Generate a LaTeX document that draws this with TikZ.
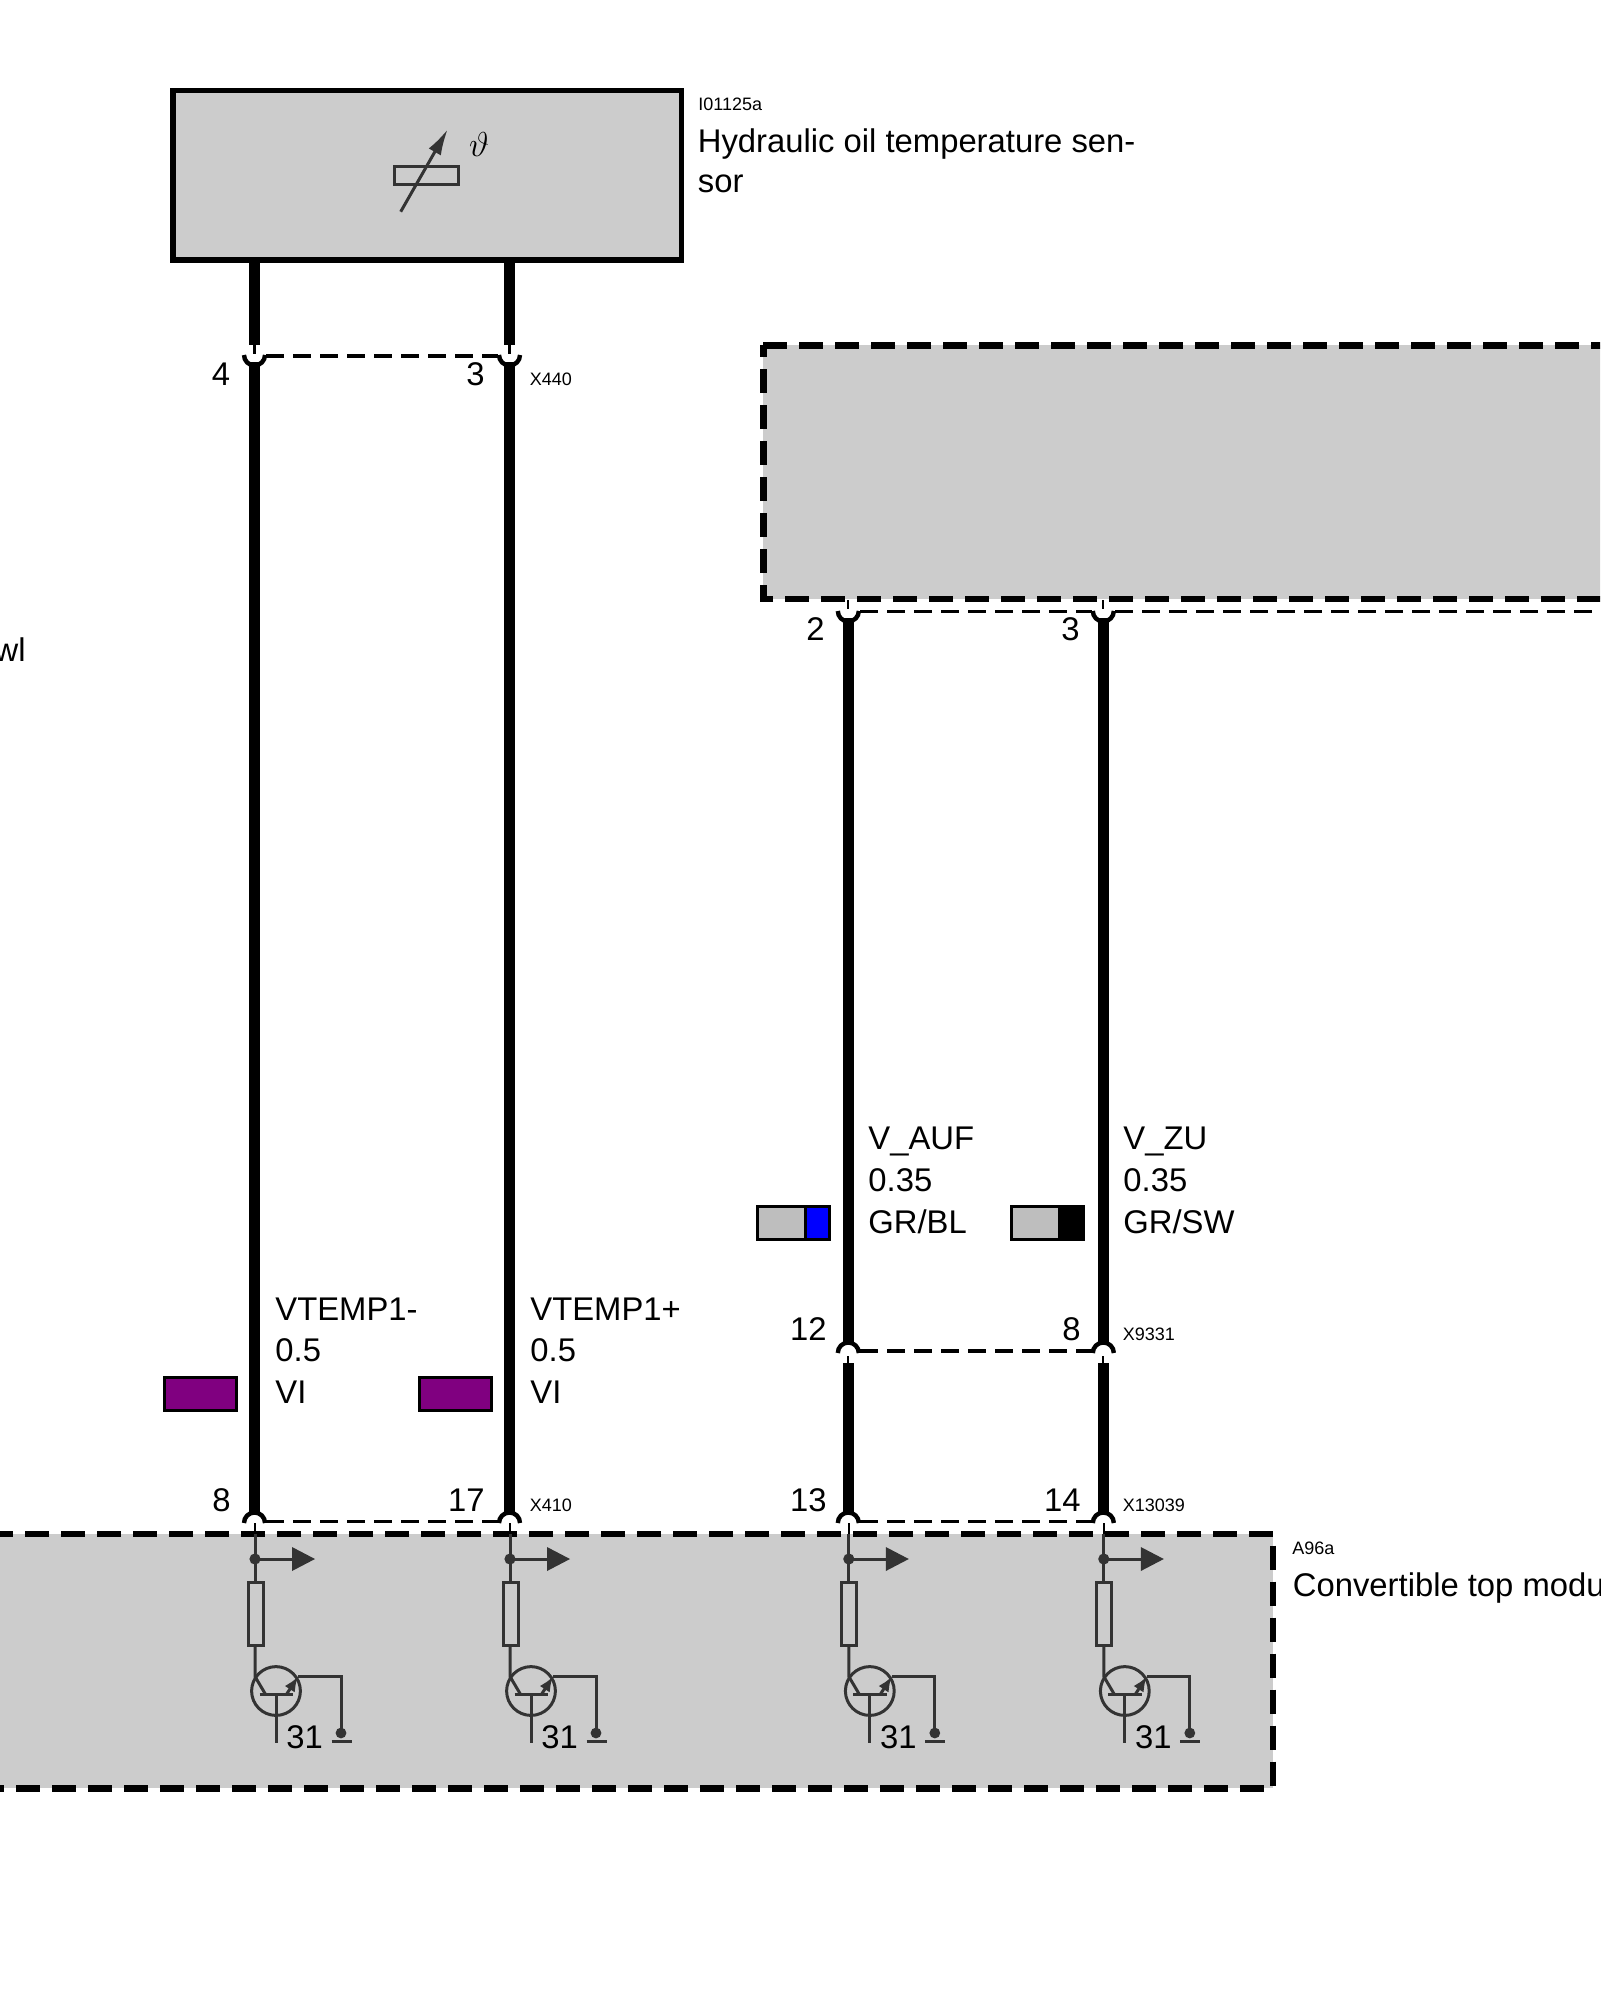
\documentclass[tikz,border=0pt]{standalone}
\usepackage{fontspec}
\setmainfont{Liberation Sans}
\usetikzlibrary{arrows.meta}
\definecolor{boxgray}{HTML}{CCCCCC}
\definecolor{swgray}{HTML}{BEBEBE}
\definecolor{symb}{HTML}{333333}
\definecolor{swviolet}{HTML}{800080}
\definecolor{swblue}{HTML}{0000FF}
\tikzset{
  big/.style={inner sep=0pt,anchor=base west,font=\fontsize{16.4}{18}\selectfont},
  bigr/.style={inner sep=0pt,anchor=base east,font=\fontsize{16.4}{18}\selectfont},
  tiny/.style={inner sep=0pt,anchor=base west,font=\fontsize{9}{10}\selectfont},
  wire/.style={line width=5.8pt,black},
  stub/.style={line width=1.1pt,black},
  conn/.style={line width=2.2pt,black},
  linkdash/.style={line width=1.6pt,black,dash pattern=on 9pt off 4.5pt},
  heavydash/.style={line width=3.2pt,black,dash pattern=on 12pt off 6pt},
  symline/.style={line width=1.5pt,symb},
  swatch/.style={line width=1.5pt,black}
}
\newcommand{\capU}[2]{\draw[conn] (#1-10.5,#2) arc[start angle=180,end angle=360,radius=5.25pt];}
\newcommand{\capN}[2]{\draw[conn] (#1-10.5,#2) arc[start angle=180,end angle=0,radius=5.25pt];}
\newcommand{\driver}[2]{%
  \begin{scope}[shift={(#1,0)}]
    \coordinate (#2top) at (0,1523);
    \coordinate (#2dot) at (0,1559);
    \coordinate (#2rt) at (0,1582.5);
    \coordinate (#2rb) at (0,1645.5);
    \coordinate (#2col) at (0,1676.5);
    \coordinate (#2gnd) at (86,1733);
    \draw[stub] (#2top) -- ++(0,14);
    \draw[symline] (0,1534) -- (#2rt);
    \fill[symb] (#2dot) circle[radius=2.8pt];
    \draw[symline] (#2dot) -- (40,1559);
    \fill[symb] (37,1547) -- (60,1559) -- (37,1571) -- cycle;
    \draw[symline] (-7,1582.5) rectangle (8,1645.5);
    \draw[symline] (#2rb) -- (#2col) -- (10.5,1694.3);
    \draw[symline] (21,1691) circle[radius=12.2pt];
    \draw[symline] (4.5,1694.3) -- (38,1694.3);
    \draw[symline] (21,1694.3) -- (21,1742.5);
    \draw[symline,-{Latex[length=7.5pt,width=6pt]}] (31.5,1694.3) -- (43,1676.5);
    \draw[symline] (43,1676.5) -- (86,1676.5) -- (#2gnd);
    \fill[symb] (#2gnd) circle[radius=2.7pt];
    \draw[symline] (76.5,1741) -- (96.5,1741);
    \node[big] (#2n) at (31,1748) {31};
  \end{scope}
}
\begin{document}
\begin{tikzpicture}[x=0.5pt,y=-0.5pt]
\useasboundingbox (0,0) rectangle (1600,2000);
\clip (0,0) rectangle (1600,2000);
\fill[white] (0,0) rectangle (1600,2000);

% gray boxes
\fill[boxgray] (763.3,345.5) rectangle (1610,599);
\draw[heavydash] (763.3,345.5) -- (1640,345.5);
\draw[heavydash] (1637,599) -- (763.3,599) -- (763.3,345.5);
\fill[boxgray] (-10,1533.7) rectangle (1273,1788.4);
\draw[heavydash] (-11,1533.7) -- (1273,1533.7) -- (1273,1788.4) -- (-20,1788.4);
\node[draw=black,line width=2.9pt,fill=boxgray,minimum width=254.4pt,minimum height=84.75pt,inner sep=0pt,outer sep=0pt] (sensor) at (427.1,175.2) {};

% sensor symbol
\draw[symline] (394.5,167) rectangle (458.5,184.5);
\draw[symline,-{Latex[length=13pt,width=7pt]}] (400.7,211.7) -- (447.7,129.3);
\node[inner sep=0pt,black] (theta) at (479,145) {\fontsize{17}{17}\selectfont$\vartheta$};

% X440
\draw[wire] (254.5,262) -- (254.5,345);
\draw[wire] (509.5,262) -- (509.5,345);
\draw[stub] (254.5,345) -- (254.5,354);
\draw[stub] (509.5,345) -- (509.5,354);
\capU{254.5}{355}
\capU{509.5}{355}
\draw[linkdash] (266,356) -- (498,356);
\draw[wire] (254.5,362) -- (254.5,1515);
\draw[wire] (509.5,362) -- (509.5,1515);
% upper box to X9331
\draw[stub] (848.3,600) -- (848.3,609);
\draw[stub] (1103.3,600) -- (1103.3,609);
\capU{848.3}{611}
\capU{1103.3}{611}
\draw[linkdash] (860,611.7) -- (1092,611.7);
\draw[linkdash] (1115,611.7) -- (1610,611.7);
\draw[wire] (848.3,618) -- (848.3,1345);
\draw[wire] (1103.3,618) -- (1103.3,1345);
\capN{848.3}{1353}
\capN{1103.3}{1353}
\draw[linkdash] (860,1351) -- (1092,1351);
\draw[stub] (848.3,1356) -- (848.3,1363);
\draw[stub] (1103.3,1356) -- (1103.3,1363);
\draw[wire] (848.3,1363) -- (848.3,1515);
\draw[wire] (1103.3,1363) -- (1103.3,1515);
% X410 / X13039
\capN{254.5}{1523}
\capN{509.5}{1523}
\capN{848.3}{1523}
\capN{1103.3}{1523}
\draw[linkdash] (266,1521.7) -- (498,1521.7);
\draw[linkdash] (860,1521.7) -- (1092,1521.7);

% module circuits
\driver{255}{da}
\driver{510}{db}
\driver{848.8}{dc}
\driver{1103.8}{dd}

% colour swatches
\node[draw=black,line width=1.5pt,fill=swviolet,minimum width=35.7pt,minimum height=16.4pt,inner sep=0pt] (vi1) at (200.5,1393.8) {};
\node[draw=black,line width=1.5pt,fill=swviolet,minimum width=35.7pt,minimum height=16.4pt,inner sep=0pt] (vi2) at (455.5,1393.8) {};
\fill[swgray] (756,1205) rectangle (805,1240.7);
\fill[swblue] (805,1205) rectangle (830.7,1240.7);
\draw[swatch] (805.5,1205) -- (805.5,1240.7);
\draw[swatch] (757.5,1206.5) rectangle (829.5,1239.3);
\fill[swgray] (1010,1205) rectangle (1058,1240.7);
\fill[black] (1058,1205) rectangle (1085,1240.7);
\draw[swatch] (1011.5,1206.5) rectangle (1083.5,1239.3);

% texts
\node[tiny] (id1) at (698,111) {I01125a};
\node[big] (s1) at (697.5,153) {Hydraulic oil temperature sen-};
\node[big] (s2) at (697.5,193) {sor};
\node[bigr] (wl) at (26,661.7) {wl};

\node[bigr] (p4) at (230.5,386) {4};
\node[bigr] (p3) at (485,386) {3};
\node[tiny] (x440) at (529.5,386) {X440};
\node[bigr] (p2) at (825,640.7) {2};
\node[bigr] (p3b) at (1080,640.7) {3};

\node[big] (t1) at (275,1320) {VTEMP1-};
\node[big] (t2) at (275,1361.7) {0.5};
\node[big] (t3) at (275,1403.3) {VI};
\node[big] (u1) at (530,1320) {VTEMP1+};
\node[big] (u2) at (530,1361.7) {0.5};
\node[big] (u3) at (530,1403.3) {VI};
\node[big] (v1) at (868,1149) {V\_AUF};
\node[big] (v2) at (868,1191) {0.35};
\node[big] (v3) at (868,1233) {GR/BL};
\node[big] (w1) at (1123,1149) {V\_ZU};
\node[big] (w2) at (1123,1191) {0.35};
\node[big] (w3) at (1123,1233) {GR/SW};

\node[bigr] (p12) at (827,1340.7) {12};
\node[bigr] (p8b) at (1081,1340.7) {8};
\node[tiny] (x9331) at (1122.5,1340.7) {X9331};
\node[bigr] (p8) at (231,1511) {8};
\node[bigr] (p17) at (485,1511) {17};
\node[tiny] (x410) at (529.5,1511.5) {X410};
\node[bigr] (p13) at (827,1511) {13};
\node[bigr] (p14) at (1081,1511) {14};
\node[tiny] (x13039) at (1122.5,1511.5) {X13039};
\node[tiny] (a96) at (1292,1554) {A96a};
\node[big] (cm) at (1292.5,1596) {Convertible top modu};
\end{tikzpicture}
\end{document}
